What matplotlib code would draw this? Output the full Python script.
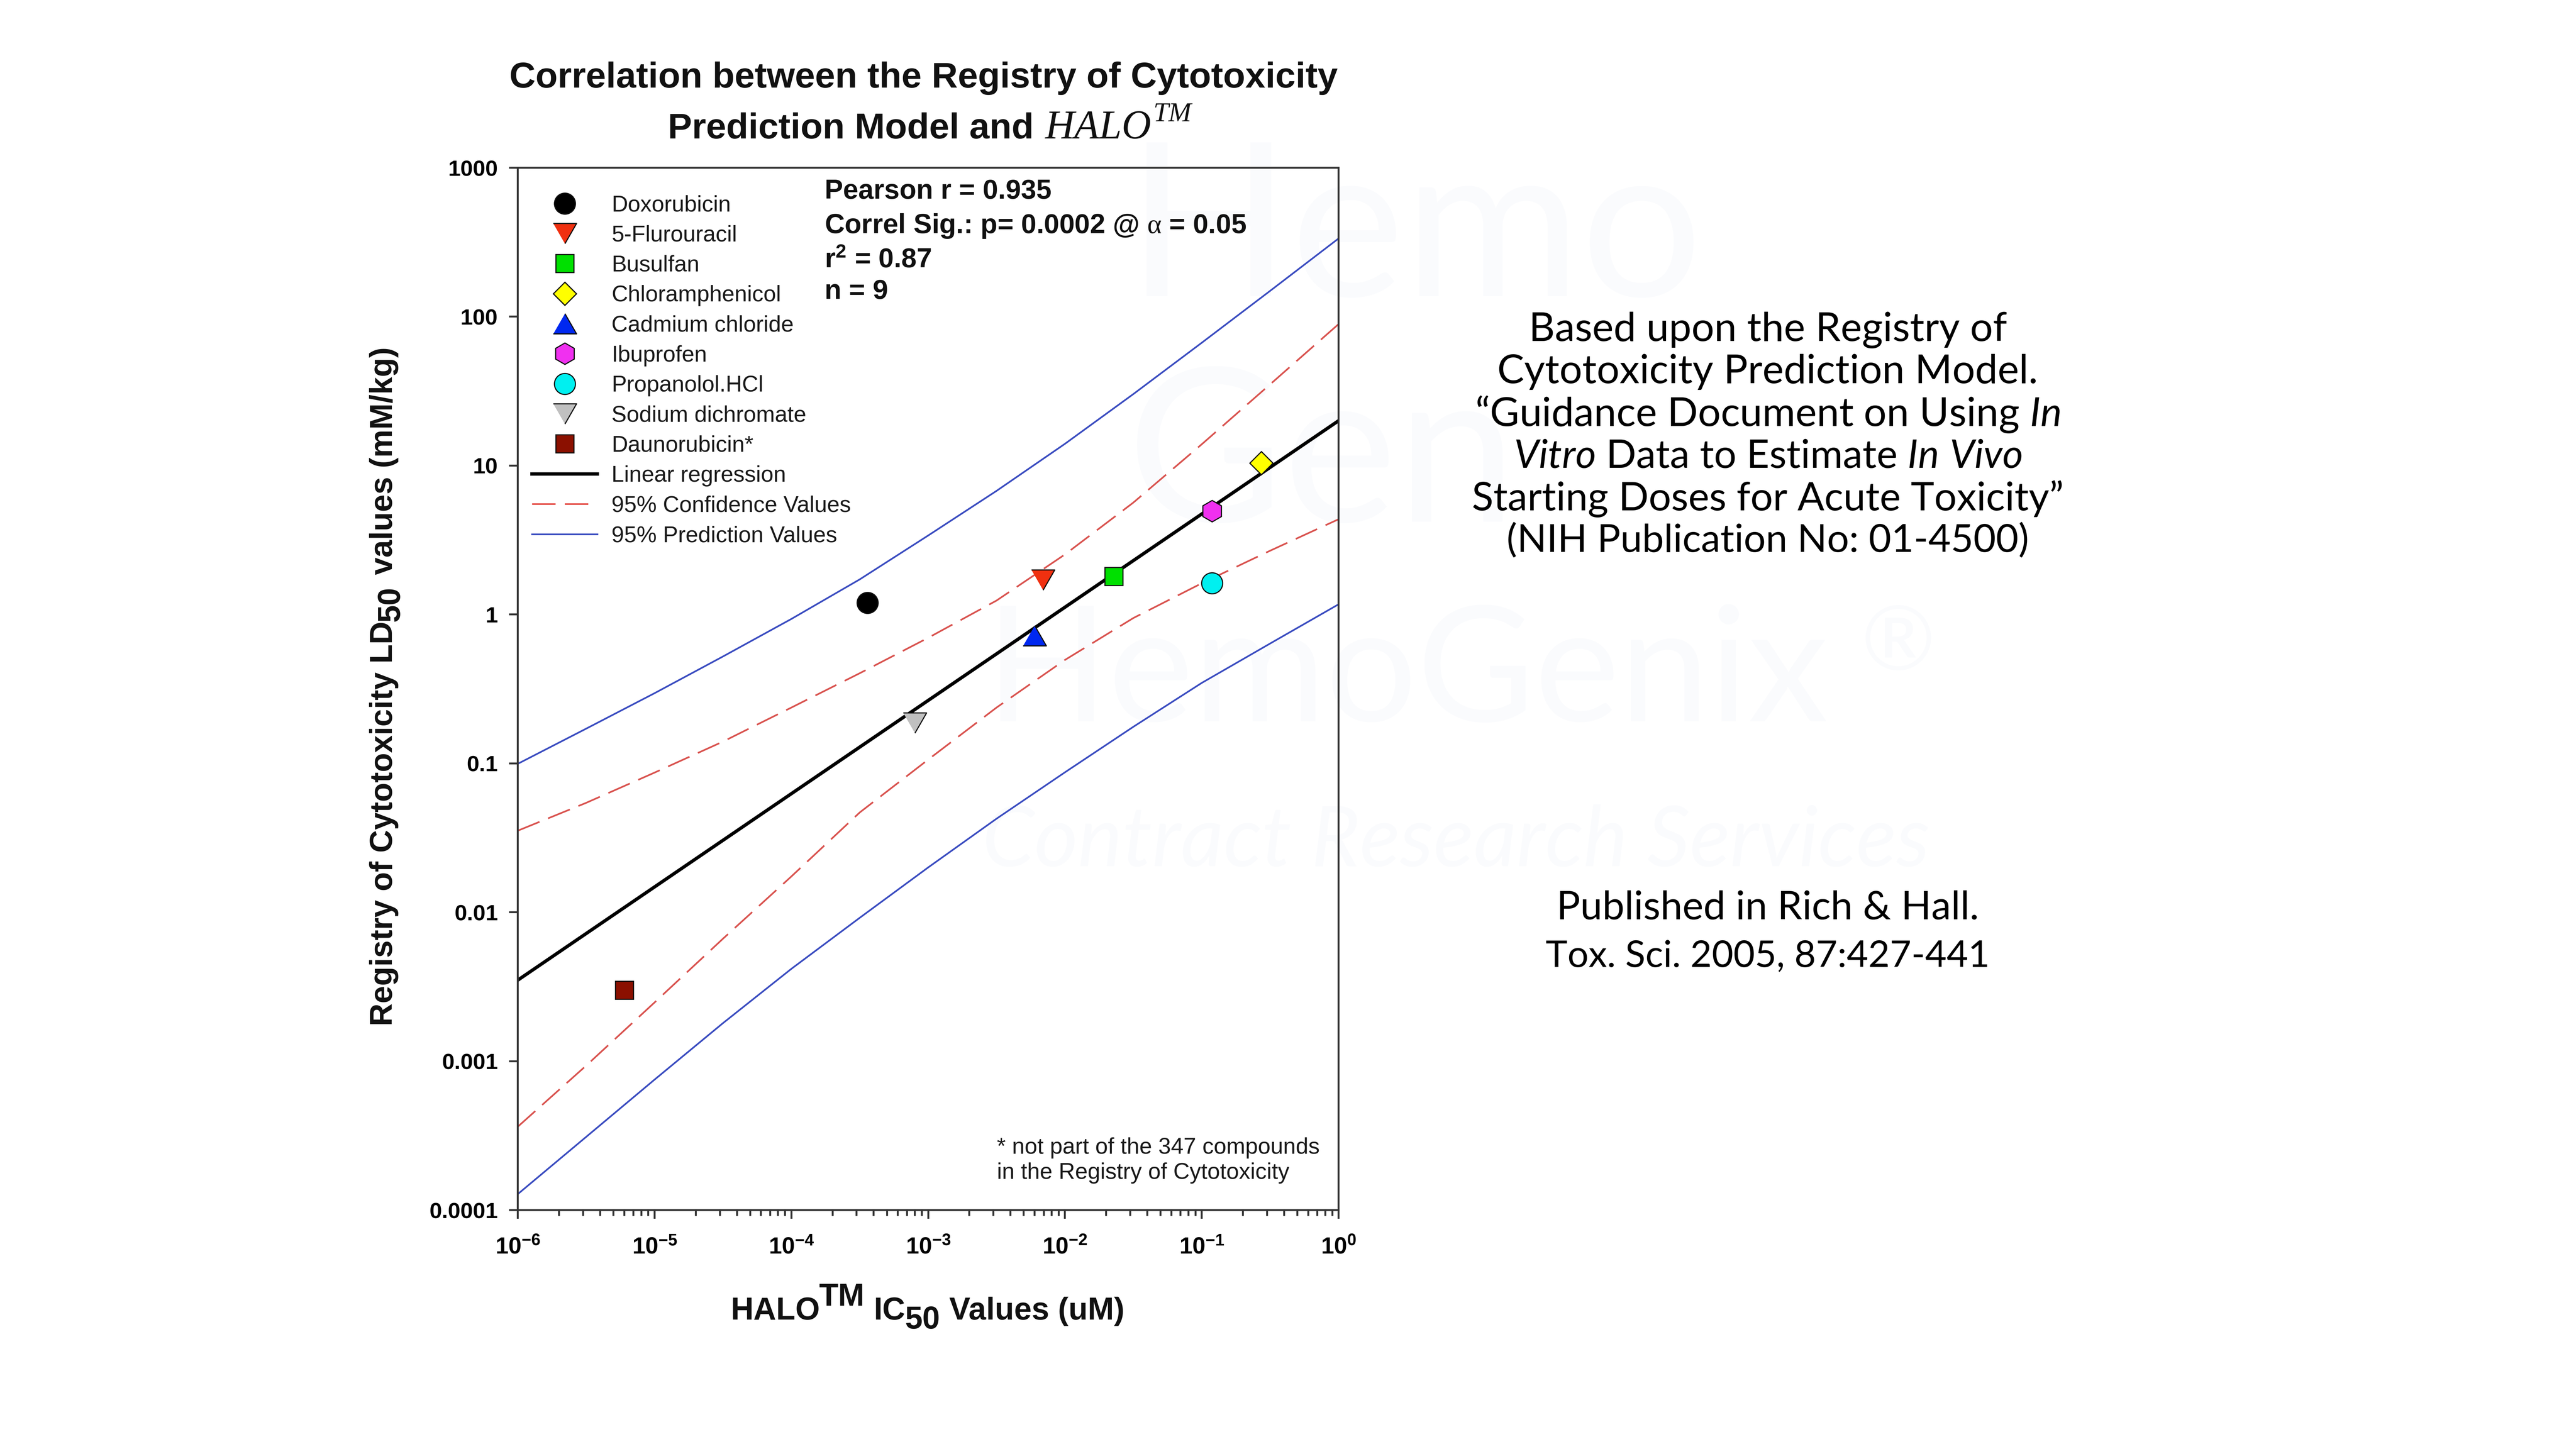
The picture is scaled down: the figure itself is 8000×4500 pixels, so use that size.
import matplotlib
matplotlib.use('Agg')
import matplotlib.pyplot as plt
from matplotlib.lines import Line2D
from matplotlib.ticker import NullFormatter, NullLocator

plt.rcParams['font.family'] = ['Liberation Sans', 'DejaVu Sans']
plt.rcParams['mathtext.fontset'] = 'custom'
plt.rcParams['mathtext.it'] = 'Lato:italic'
plt.rcParams['mathtext.rm'] = 'Lato'
plt.rcParams['mathtext.bf'] = 'Liberation Serif'

# data
names = ['Doxorubicin', '5-Flurouracil', 'Busulfan', 'Chloramphenicol', 'Cadmium chloride',
         'Ibuprofen', 'Propanolol.HCl', 'Sodium dichromate', 'Daunorubicin*']
halo_ic50 = [3.6e-4, 6.9e-3, 0.0227, 0.273, 0.006, 0.119, 0.119, 8e-4, 6e-6]
ld50 = [1.2, 1.71, 1.8, 10.4, 0.72, 4.96, 1.62, 0.187, 0.003]
tri_down = [(-1, 0.87), (1, 0.87), (0, -0.87)]
tri_up = [(-1, -0.87), (1, -0.87), (0, 0.87)]
markers = ['o', tri_down, 's', 'D', tri_up, 'h', 'o', tri_down, 's']
colors = ['#000000', '#F03010', '#00E000', '#FFFF00', '#0028F0', '#F030F0', '#00F0F0', '#C0C0C0', '#8B1000']
sizes = [9.4, 10.4, 8.2, 7.4, 10.4, 9.6, 9.4, 10.4, 8.2]

fit_x = [1e-6, 1.0]
fit_y = [0.0035, 20.0]

curve_x = [1e-6, 3.16e-6, 1e-5, 3.16e-5, 1e-4, 3.16e-4, 1e-3, 3.16e-3, 1e-2, 3.16e-2, 1e-1, 3.16e-1, 1.0]
conf_upper = [0.0353, 0.0543, 0.0867, 0.140, 0.237, 0.403, 0.697, 1.24, 2.53, 5.64, 13.9, 35.1, 89.1]
conf_lower = [3.63e-4, 9.33e-4, 2.48e-3, 6.64e-3, 0.0174, 0.0468, 0.106, 0.237, 0.495, 0.946, 1.62, 2.68, 4.36]
pred_upper = [0.0993, 0.171, 0.296, 0.522, 0.933, 1.72, 3.39, 6.76, 14.0, 30.2, 66.8, 149.0, 335.0]
pred_lower = [1.28e-4, 3.10e-4, 7.52e-4, 1.80e-3, 4.17e-3, 9.18e-3, 0.020, 0.0425, 0.0871, 0.176, 0.347, 0.638, 1.17]

x_ticks = [1e-6, 1e-5, 1e-4, 1e-3, 1e-2, 1e-1, 1.0]
x_labels = ['10$^{\\mathdefault{-6}}$', '10$^{\\mathdefault{-5}}$', '10$^{\\mathdefault{-4}}$', '10$^{\\mathdefault{-3}}$',
            '10$^{\\mathdefault{-2}}$', '10$^{\\mathdefault{-1}}$', '10$^{\\mathdefault{0}}$']
y_ticks = [1e-4, 1e-3, 1e-2, 1e-1, 1, 10, 100, 1000]
y_labels = ['0.0001', '0.001', '0.01', '0.1', '1', '10', '100', '1000']

W, H = 8000, 4500
fig = plt.figure(figsize=(16, 9), dpi=500, facecolor='white')

# faint watermark behind everything
wm = '#FAFBFD'
fig.text(3500/W, 1-920/H, 'Hemo', fontsize=96, color=wm, family='Lato', zorder=0)
fig.text(3500/W, 1-1620/H, 'Gen', fontsize=96, color=wm, family='Lato', zorder=0)
fig.text(3060/W, 1-2240/H, 'HemoGenix', fontsize=72, color=wm, family='Lato', zorder=0)
fig.text(5780/W, 1-2080/H, '®', fontsize=40, color=wm, family='Lato', zorder=0)
fig.text(3050/W, 1-2690/H, 'Contract Research Services', fontsize=37.5, color=wm, family='Lato', style='italic', zorder=0)

ax = fig.add_axes([1608/W, 1-3758/H, (4157-1608)/W, (3758-521)/H], zorder=2)
ax.patch.set_alpha(0)

LW = 0.85
ax.plot(curve_x, pred_upper, color='#3A4CC0', lw=0.75)
ax.plot(curve_x, pred_lower, color='#3A4CC0', lw=0.75)
ax.plot(curve_x, conf_upper, color='#D9534F', lw=0.75, dashes=(14, 5.5))
ax.plot(curve_x, conf_lower, color='#D9534F', lw=0.75, dashes=(14, 5.5))
ax.plot(fit_x, fit_y, color='black', lw=1.5)

handles = []
for i in range(len(names)):
    ax.plot(halo_ic50[i], ld50[i], marker=markers[i], ms=sizes[i], mfc=colors[i], mec='#111111', mew=0.5,
            ls='none', zorder=5, clip_on=False)
    handles.append(Line2D([], [], marker=markers[i], ms=sizes[i], mfc=colors[i], mec='#111111', mew=0.5, ls='none'))
handles.append(Line2D([], [], color='black', lw=1.5))
handles.append(Line2D([], [], color='#E5504A', lw=0.75, dashes=(14, 5.5)))
handles.append(Line2D([], [], color='#3A4CC0', lw=0.75))
labels = names + ['Linear regression', '95% Confidence Values', '95% Prediction Values']

ax.legend(handles, labels, loc='upper left', bbox_to_anchor=(0.0172, 0.974), frameon=False, fontsize=10.1,
          handlelength=2.9, handletextpad=0.63, labelspacing=0.39, borderpad=0, borderaxespad=0,
          labelcolor='#1A1A1A')

ax.set_xscale('log')
ax.set_yscale('log')
ax.set_xlim(1e-6, 1)
ax.set_ylim(1e-4, 1000)
ax.set_xticks(x_ticks, x_labels, fontsize=10.5, fontweight='bold')
ax.set_yticks(y_ticks, y_labels, fontsize=10, fontweight='bold')
ax.xaxis.set_minor_formatter(NullFormatter())
ax.yaxis.set_minor_locator(NullLocator())
ax.tick_params(axis='y', which='major', length=3.9, width=LW, color='#333333', pad=5)
ax.tick_params(axis='x', which='major', length=3.9, width=LW, color='#333333', pad=8)
ax.tick_params(axis='x', which='minor', length=2.6, width=LW, color='#333333')
for s in ax.spines.values():
    s.set_linewidth(LW)
    s.set_color('#333333')


def bold(x, y, s, size=14.1, **kw):
    fig.text(x/W, 1-y/H, s, fontsize=size, fontweight='bold', va='baseline', color='#111111', **kw)


# x axis title, in pieces because the super and subscripts are full size
bold(2269, 4098, 'HALO')
bold(2544, 4055, 'TM')
bold(2714, 4098, 'IC')
bold(2811, 4126, '50')
bold(2948, 4098, 'Values (uM)')

# y axis title
rot = dict(rotation=90, rotation_mode='anchor', ha='left')
bold(1218, 3186, 'Registry of Cytotoxicity LD', **rot)
bold(1240, 1930, '50', **rot)
bold(1218, 1785, 'values (mM/kg)', **rot)

# chart title
fig.text(2868/W, 1-243/H, 'Correlation between the Registry of Cytotoxicity', fontsize=16.2,
         fontweight='bold', ha='center', va='center', color='#111111')
bold(2074, 430, 'Prediction Model and', size=16.2)
fig.text(3245/W, 1-430/H, 'HALO', fontsize=18.2, family='Liberation Serif', style='italic', va='baseline', color='#111111')
fig.text(3581/W, 1-376/H, 'TM', fontsize=12.3, family='Liberation Serif', style='italic', va='baseline', color='#111111')

# statistics block
stats = ['Pearson r = 0.935', 'Correl Sig.: p= 0.0002 @ $\\mathbf{\\alpha}$ = 0.05',
         'r$^{\\mathdefault{2}}$ = 0.87', 'n = 9']
stats_y = [595, 702, 809, 906]
for s, y in zip(stats, stats_y):
    fig.text(2561/W, 1-y/H, s, fontsize=12.3, fontweight='bold', va='center', color='#111111')

fig.text(3096/W, 1-3565/H, '* not part of the 347 compounds', fontsize=10.15, va='center', color='#1A1A1A')
fig.text(3096/W, 1-3643/H, 'in the Registry of Cytotoxicity', fontsize=10.15, va='center', color='#1A1A1A')

# text to the right of the chart
notes = ['Based upon the Registry of', 'Cytotoxicity Prediction Model.',
         '“Guidance Document on Using $\\mathit{In}$', '$\\mathit{Vitro}$ Data to Estimate $\\mathit{In\\ Vivo}$',
         'Starting Doses for Acute Toxicity”', '(NIH Publication No: 01-4500)']
notes_y = [1025, 1155, 1287, 1418, 1549, 1680]
notes_size = [18, 18, 18, 17.7, 17.75, 17.4]
for s, y, fs in zip(notes, notes_y, notes_size):
    fig.text(5490/W, 1-y/H, s, fontsize=fs, family='Lato', ha='center', va='center', color='black')
fig.text(5490/W, 1-2820/H, 'Published in Rich & Hall.', fontsize=17.7, family='Lato', ha='center', va='center', color='black')
fig.text(5490/W, 1-2970/H, 'Tox. Sci. 2005, 87:427-441', fontsize=16.6, family='Lato', ha='center', va='center', color='black')

fig.savefig('out.png', dpi=500)
